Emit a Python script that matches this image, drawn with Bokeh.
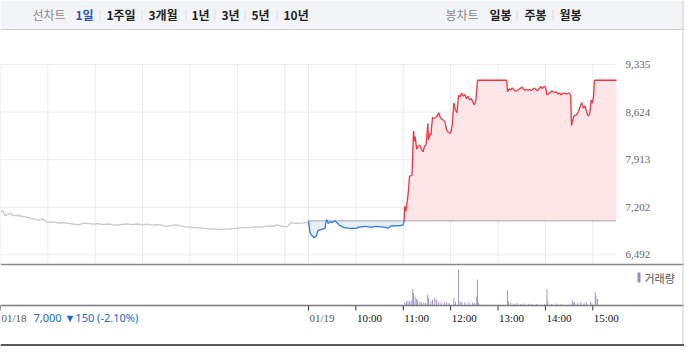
import numpy as np
from bokeh.plotting import figure
from bokeh.models import (Range1d, Span, Label, LabelSet, BoxAnnotation,
                          ColumnDataSource)
from bokeh.embed import file_html
from bokeh.resources import INLINE

# ---------------- data ----------------
SESSION_MIN = 390            # 09:00 - 15:30
prev_close_d1 = 7150
close_d1 = 7000
change_d1 = -150
pct_d1 = -2.10

y_ticks = [6492, 7202, 7913, 8624, 9335]
PRICE_TOP = 9335
PRICE_BOTTOM = 6348
VOL_TOP = 42000

# 01/18 (minutes after 09:00, price)
d1_min = [0, 3, 6, 9, 12, 16, 22, 31, 36, 41, 49, 54, 59, 66, 74, 80, 87, 93, 99,
          105, 111, 118, 124, 130, 136, 142, 148, 155, 161, 167, 173, 179, 185,
          192, 198, 204, 210, 216, 222, 228, 235, 241, 247, 253, 260, 266, 272,
          278, 284, 290, 296, 303, 309, 315, 322, 328, 334, 340, 346, 350, 355,
          361, 364, 368, 372, 377, 383, 389, 390]
d1_price = [7135, 7150, 7074, 7095, 7117, 7078, 7080, 7060, 7050, 7031, 7010, 7030,
            6975, 6985, 6967, 6975, 6960, 6950, 6939, 6965, 6960, 6950, 6960, 6945,
            6953, 6940, 6936, 6948, 6955, 6945, 6953, 6940, 6950, 6935, 6945, 6936,
            6918, 6930, 6939, 6925, 6911, 6905, 6896, 6895, 6885, 6875, 6878, 6872,
            6875, 6880, 6885, 6896, 6900, 6903, 6910, 6905, 6918, 6925, 6920, 6939,
            6925, 6911, 6920, 6975, 6965, 6960, 6970, 6975, 7000]

# 01/19 (minutes after 09:00, price)
d2_min = [0, 2, 5, 7, 10, 12, 17, 21, 22, 23, 25, 27, 30, 33, 36, 38, 44, 52, 60, 64,
          73, 79, 85, 98, 101, 104, 116, 120, 121, 122, 123, 124, 126, 128, 131, 132,
          133, 134, 135, 137, 139, 141, 143, 145, 147, 149, 151, 152, 154, 155, 157,
          159, 161, 163, 165, 167, 169, 171, 173, 175, 177, 180, 182, 184, 186, 188,
          190, 192, 194, 196, 198, 200, 202, 204, 206, 208, 210, 212, 214, 251, 252,
          254, 256, 258, 260, 262, 264, 266, 268, 270, 272, 274, 276, 278, 280, 282,
          284, 286, 288, 290, 292, 294, 296, 298, 300, 302, 304, 306, 308, 310, 312,
          314, 316, 318, 320, 322, 324, 326, 328, 330, 332, 333, 334, 336, 338, 340,
          342, 344, 346, 348, 350, 352, 354, 356, 358, 359, 361, 362, 390]
d2_price = [7000, 6816, 6773, 6745, 6773, 6859, 6873, 6888, 6973, 7016, 6959, 6988,
            6973, 7000, 6973, 6945, 6902, 6888, 6888, 6906, 6916, 6902, 6916, 6902,
            6888, 6923, 6930, 6938, 7000, 7216, 7145, 7192, 7387, 7671, 7676, 7998,
            8340, 8188, 8259, 8069, 8117, 8131, 8069, 8031, 8117, 8140, 8449, 8211,
            8306, 8282, 8543, 8529, 8543, 8567, 8614, 8543, 8515, 8505, 8472, 8354,
            8320, 8306, 8425, 8756, 8661, 8614, 8875, 8851, 8908, 8860, 8889, 8827,
            8860, 8803, 8827, 8779, 8732, 8803, 9100, 9100, 8927, 8974, 8951, 8988,
            8951, 8936, 8951, 8960, 8974, 8998, 8974, 8951, 8960, 8951, 8965, 8941,
            8965, 8984, 8960, 8941, 8974, 9008, 8974, 9008, 8998, 8879, 8903, 8913,
            8941, 8927, 8913, 8927, 8894, 8913, 8879, 8903, 8913, 8894, 8903, 8913,
            8879, 8425, 8472, 8567, 8576, 8590, 8638, 8708, 8765, 8684, 8718, 8638,
            8567, 8590, 8803, 8756, 8851, 9100, 9100]

# 01/19 volume (minutes after 09:00, shares)
vol_min = [122, 124, 126, 128, 130, 132, 133, 135, 137, 138, 141, 143, 146, 148, 151,
           152, 155, 157, 160, 162, 165, 168, 172, 175, 178, 184, 186, 190, 192, 194,
           198, 203, 208, 210, 213, 214, 215, 217, 234, 252, 253, 256, 260, 264, 269,
           273, 279, 283, 289, 299, 302, 303, 308, 314, 320, 330, 334, 335, 337, 341,
           345, 349, 352, 357, 359, 363, 364, 366]
vol_val = [3000, 4000, 5000, 4000, 5000, 16700, 12700, 9000, 6700, 5000, 4000, 3000,
           3000, 2500, 11000, 7700, 4000, 6000, 8300, 6000, 4000, 3000, 3000, 3000,
           2500, 7300, 4000, 36700, 4000, 3700, 3000, 3000, 3000, 2500, 9300, 26700,
           2700, 1000, 1000, 15300, 4300, 2700, 1700, 2500, 1500, 2000, 1700, 1500,
           1500, 1500, 16700, 4300, 1500, 2000, 1500, 1000, 5300, 3700, 3700, 2700,
           3700, 2700, 2700, 4000, 2000, 13300, 10000, 6700]

date_labels = ["01/18", "01/19"]
hour_labels = ["10:00", "11:00", "12:00", "13:00", "14:00", "15:00"]
hour_offsets = [60, 120, 180, 240, 300, 360]

header_left = ["선차트", "1일", "1주일", "3개월", "1년", "3년", "5년", "10년"]
header_right = ["봉차트", "일봉", "주봉", "월봉"]

# ---------------- layout (page pixels) ----------------
W, H = 684, 346
FRAME_W = 616          # width of the chart area
HDR_H = 29
PRICE_TOP_PX = 64      # page y of PRICE_TOP
PRICE_BOT_PX = 264     # page y of PRICE_BOTTOM (top of volume panel)
VOL_BASE_PX = 305      # page y of volume zero / time axis
XLAB_PX = 317

RED, PINK = "#f2323f", "#fde5e8"
BLUE, LBLUE = "#2f78de", "#e6eefb"
GRAY_LINE = "#c8c8c8"
PURPLE = "#9a86c8"
GRID = "#ececec"
FONT = "Noto Sans"
KFONT = "Noto Sans CJK KR"

total_min = 2 * SESSION_MIN
x_end = total_min * W / FRAME_W
ppp = (PRICE_TOP - PRICE_BOTTOM) / (PRICE_BOT_PX - PRICE_TOP_PX)   # price per pixel
y_start = PRICE_BOTTOM - (H - PRICE_BOT_PX) * ppp
y_end = PRICE_TOP + PRICE_TOP_PX * ppp
vpp = VOL_TOP / (VOL_BASE_PX - PRICE_BOT_PX)                         # shares per pixel
v_start = -(H - VOL_BASE_PX) * vpp
v_end = VOL_BASE_PX * vpp

p = figure(width=W, height=H, x_range=Range1d(0, x_end), y_range=Range1d(y_start, y_end),
           toolbar_location=None, output_backend="svg", x_axis_location=None,
           y_axis_location=None, min_border=0, outline_line_color=None,
           background_fill_color="white", border_fill_color="white")
p.grid.visible = False
p.extra_y_ranges = {"vol": Range1d(v_start, v_end)}

# ---- header ----
p.add_layout(BoxAnnotation(left=0, right=W, bottom=H - HDR_H, top=H, left_units="screen",
                           right_units="screen", bottom_units="screen", top_units="screen",
                           fill_color="#f3f4f7", fill_alpha=1, line_color=None, level="underlay"))
p.add_layout(Span(location=H - HDR_H, location_units="screen", dimension="width",
                  line_color="#cfcfcf", line_width=1))
left_x = [32, 75, 106, 148, 191, 221, 251, 283]
left_col = ["#8a8a8a", "#2a54b5"] + ["#222222"] * 6
right_x = [445, 489, 524, 559]
right_col = ["#8a8a8a"] + ["#222222"] * 3
for txt, xx, col in zip(header_left + header_right, left_x + right_x, left_col + right_col):
    st = "normal" if txt in ("선차트", "봉차트") else "bold"
    p.add_layout(Label(x=xx, y=H - HDR_H / 2 + 0.5, x_units="screen", y_units="screen",
                       text=txt, text_font=KFONT, text_font_size="12px", text_color=col,
                       text_font_style=st, text_baseline="middle"))
for sx in [99, 141, 185, 214, 244, 276, 516, 552]:
    p.add_layout(BoxAnnotation(left=sx, right=sx + 1, bottom=H - HDR_H / 2 - 5,
                               top=H - HDR_H / 2 + 5, left_units="screen",
                               right_units="screen", bottom_units="screen",
                               top_units="screen", fill_color="#dcdcdc", fill_alpha=1,
                               line_color=None))

# ---- grid of the price panel ----
grid_ticks = [0] + hour_offsets + [SESSION_MIN] + [SESSION_MIN + h for h in hour_offsets]
p.segment(x0=grid_ticks, x1=grid_ticks, y0=[PRICE_BOTTOM] * len(grid_ticks),
          y1=[PRICE_TOP] * len(grid_ticks), line_color=GRID, line_width=1)
p.segment(x0=[0] * len(y_ticks), x1=[total_min] * len(y_ticks), y0=y_ticks, y1=y_ticks,
          line_color=GRID, line_width=1)

# ---- price series ----
x1 = np.array(d1_min, dtype=float)
y1 = np.array(d1_price, dtype=float)
x2 = np.array(d2_min, dtype=float) + SESSION_MIN
y2 = np.array(d2_price, dtype=float)
base = close_d1

p.varea(x=x2, y1=np.full_like(y2, base), y2=np.maximum(y2, base), fill_color=PINK)
p.varea(x=x2, y1=np.full_like(y2, base), y2=np.minimum(y2, base), fill_color=LBLUE)
p.line(x=[x2[0], total_min], y=[base, base], line_color="#555555", line_dash="1 1",
       line_width=1)
p.line(x=x1, y=y1, line_color=GRAY_LINE, line_width=1.3)
mid = (y2[:-1] + y2[1:]) / 2
seg_col = [RED if m >= base else BLUE for m in mid]
p.segment(x0=x2[:-1], y0=y2[:-1], x1=x2[1:], y1=y2[1:], line_color=seg_col, line_width=1.3)

# price axis labels (right)
ysrc = ColumnDataSource(dict(y=y_ticks, text=[f"{v:,}" for v in y_ticks]))
p.add_layout(LabelSet(x=625, x_units="screen", y="y", text="text", source=ysrc,
                      text_font=FONT, text_font_size="11px", text_color="#666666",
                      text_baseline="middle", text_align="left"))

# ---- volume panel ----
p.add_layout(Span(location=H - PRICE_BOT_PX, location_units="screen", dimension="width",
                  line_color="#8a8a8a", line_width=1.5))
vx = np.array(vol_min, dtype=float) + SESSION_MIN
p.vbar(x=vx, top=vol_val, bottom=0, width=1.1, fill_color=PURPLE, line_color=None,
       y_range_name="vol")
p.add_layout(Span(location=H - VOL_BASE_PX, location_units="screen", dimension="width",
                  line_color="#7a7a7a", line_width=1.3))
tick_pos = [0, SESSION_MIN] + [SESSION_MIN + h for h in hour_offsets]
p.segment(x0=tick_pos, x1=tick_pos, y0=[0] * len(tick_pos),
          y1=[-5 * vpp] * len(tick_pos), line_color="#333333", line_width=1,
          y_range_name="vol")
xsrc = ColumnDataSource(dict(
    x=tick_pos, text=date_labels + hour_labels,
    color=["#555555", "#555555"] + ["#111111"] * len(hour_labels)))
p.add_layout(LabelSet(x="x", y=H - XLAB_PX, y_units="screen", text="text", source=xsrc,
                      text_align="left", text_baseline="middle", text_font=FONT,
                      text_font_size="11px", text_color="color", x_offset=1))
sign = "▼" if change_d1 < 0 else "▲"
summary = f"{close_d1:,} {sign}{abs(change_d1)} ({pct_d1:.2f}%)"
p.add_layout(Label(x=33, y=H - XLAB_PX, x_units="screen", y_units="screen", text=summary,
                   text_font=FONT, text_font_size="11px", text_color="#2067d6",
                   text_baseline="middle"))
p.add_layout(BoxAnnotation(left=637, right=640, bottom=H - 282, top=H - 272,
                           left_units="screen", right_units="screen", bottom_units="screen",
                           top_units="screen", fill_color=PURPLE, fill_alpha=1,
                           line_color=None))
p.add_layout(Label(x=644, y=H - 277, x_units="screen", y_units="screen", text="거래량",
                   text_font=KFONT, text_font_size="11px", text_color="#555555",
                   text_baseline="middle"))

# ---- frame edges ----
p.add_layout(Span(location=W - 1.5, location_units="screen", dimension="height",
                  line_color="#cfcfcf", line_width=1))
p.add_layout(BoxAnnotation(left=0, right=W, bottom=0, top=2.5, left_units="screen",
                           right_units="screen", bottom_units="screen", top_units="screen",
                           fill_color="#5a5a5a", fill_alpha=1, line_color=None))

open("out.html", "w").write(file_html(p, INLINE))
